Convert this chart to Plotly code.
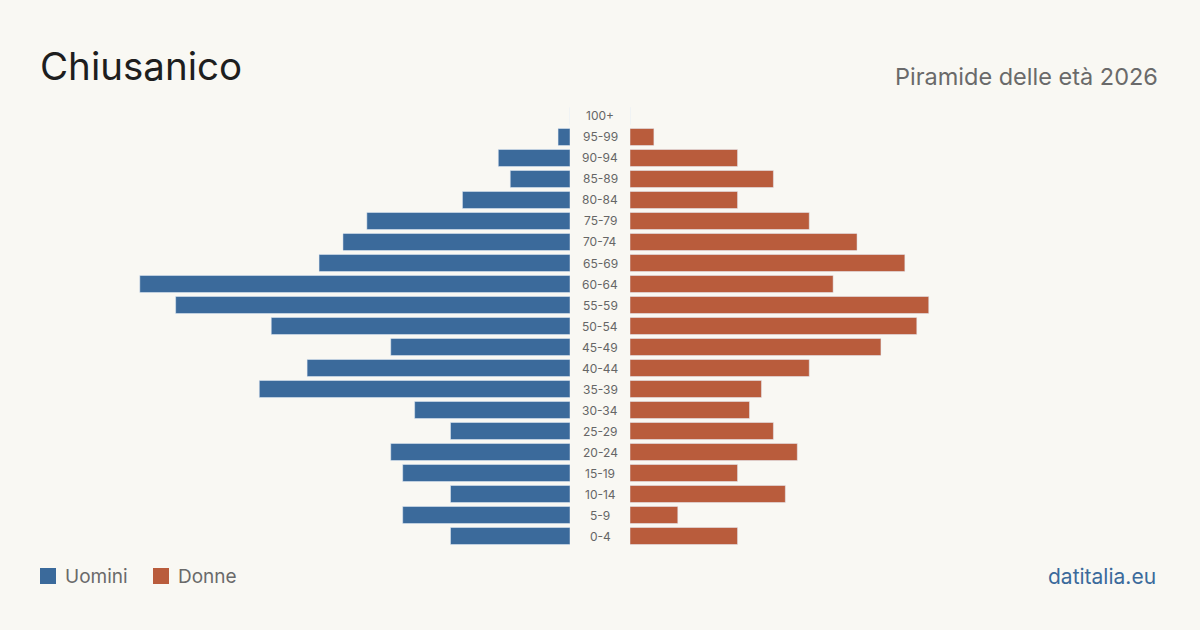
import plotly.graph_objects as go

age_groups = ["0-4", "5-9", "10-14", "15-19", "20-24", "25-29", "30-34", "35-39",
              "40-44", "45-49", "50-54", "55-59", "60-64", "65-69", "70-74",
              "75-79", "80-84", "85-89", "90-94", "95-99", "100+"]
men = [10, 14, 10, 14, 15, 10, 13, 26, 22, 15, 25, 33, 36, 21, 19, 17, 9, 5, 6, 1, 0]
women = [9, 4, 13, 9, 14, 12, 10, 11, 15, 21, 24, 25, 17, 23, 19, 15, 9, 12, 9, 2, 0]

BLUE = "#3b6a9b"
ORANGE = "#b95c3c"
BG = "#f9f8f3"
FONT = "Inter, Roboto, sans-serif"

W, H = 1200, 630
scale_range = 530 / 11.95

fig = go.Figure()
fig.add_trace(go.Bar(y=age_groups, x=men, orientation="h", marker_color=BLUE,
                     xaxis="x", yaxis="y", showlegend=False, hoverinfo="x+y"))
fig.add_trace(go.Bar(y=age_groups, x=women, orientation="h", marker_color=ORANGE,
                     xaxis="x2", yaxis="y2", showlegend=False, hoverinfo="x+y"))

y_bottom = (H - 546.5) / H
y_top = (H - 105.5) / H

axis_common = dict(showgrid=False, zeroline=False, showticklabels=False, showline=False, fixedrange=True)
fig.update_layout(
    width=W, height=H,
    margin=dict(l=0, r=0, t=0, b=0),
    paper_bgcolor=BG, plot_bgcolor=BG,
    bargap=0.19,
    xaxis=dict(domain=[40 / W, 570 / W], range=[scale_range, 0], **axis_common),
    xaxis2=dict(domain=[630 / W, 1160 / W], range=[0, scale_range], **axis_common),
    yaxis=dict(domain=[y_bottom, y_top], anchor="x", categoryorder="array",
               categoryarray=age_groups, range=[-0.5, 20.5], **axis_common),
    yaxis2=dict(domain=[y_bottom, y_top], anchor="x2", categoryorder="array",
                categoryarray=age_groups, range=[-0.5, 20.5], **axis_common),
    font=dict(family=FONT),
)

annotations = []
for g in age_groups:
    annotations.append(dict(x=600 / W, xref="paper", y=g, yref="y", text=g,
                            showarrow=False, xanchor="center", yanchor="middle",
                            font=dict(size=12, color="#666666", family=FONT)))

annotations.append(dict(x=38 / W, y=1 - 66 / H, xref="paper", yref="paper", text="Chiusanico",
                        showarrow=False, xanchor="left", yanchor="middle",
                        font=dict(size=38.5, color="#1e1e1e", family=FONT)))
annotations.append(dict(x=1160 / W, y=1 - 76 / H, xref="paper", yref="paper",
                        text="Piramide delle età 2026", showarrow=False,
                        xanchor="right", yanchor="middle",
                        font=dict(size=23.5, color="#6a6a6a", family=FONT)))
annotations.append(dict(x=63 / W, y=1 - 576 / H, xref="paper", yref="paper", text="Uomini",
                        showarrow=False, xanchor="left", yanchor="middle",
                        font=dict(size=19, color="#6a6a6a", family=FONT)))
annotations.append(dict(x=176 / W, y=1 - 576 / H, xref="paper", yref="paper", text="Donne",
                        showarrow=False, xanchor="left", yanchor="middle",
                        font=dict(size=19, color="#6a6a6a", family=FONT)))
annotations.append(dict(x=1158 / W, y=1 - 576 / H, xref="paper", yref="paper", text="datitalia.eu",
                        showarrow=False, xanchor="right", yanchor="middle",
                        font=dict(size=21, color=BLUE, family=FONT)))

shapes = [
    dict(type="rect", xref="paper", yref="paper", x0=40 / W, x1=56 / W,
         y0=1 - 584 / H, y1=1 - 568 / H, fillcolor=BLUE, line=dict(width=0)),
    dict(type="rect", xref="paper", yref="paper", x0=153 / W, x1=169 / W,
         y0=1 - 584 / H, y1=1 - 568 / H, fillcolor=ORANGE, line=dict(width=0)),
]

fig.update_layout(annotations=annotations, shapes=shapes)
fig.write_html("out.html")
